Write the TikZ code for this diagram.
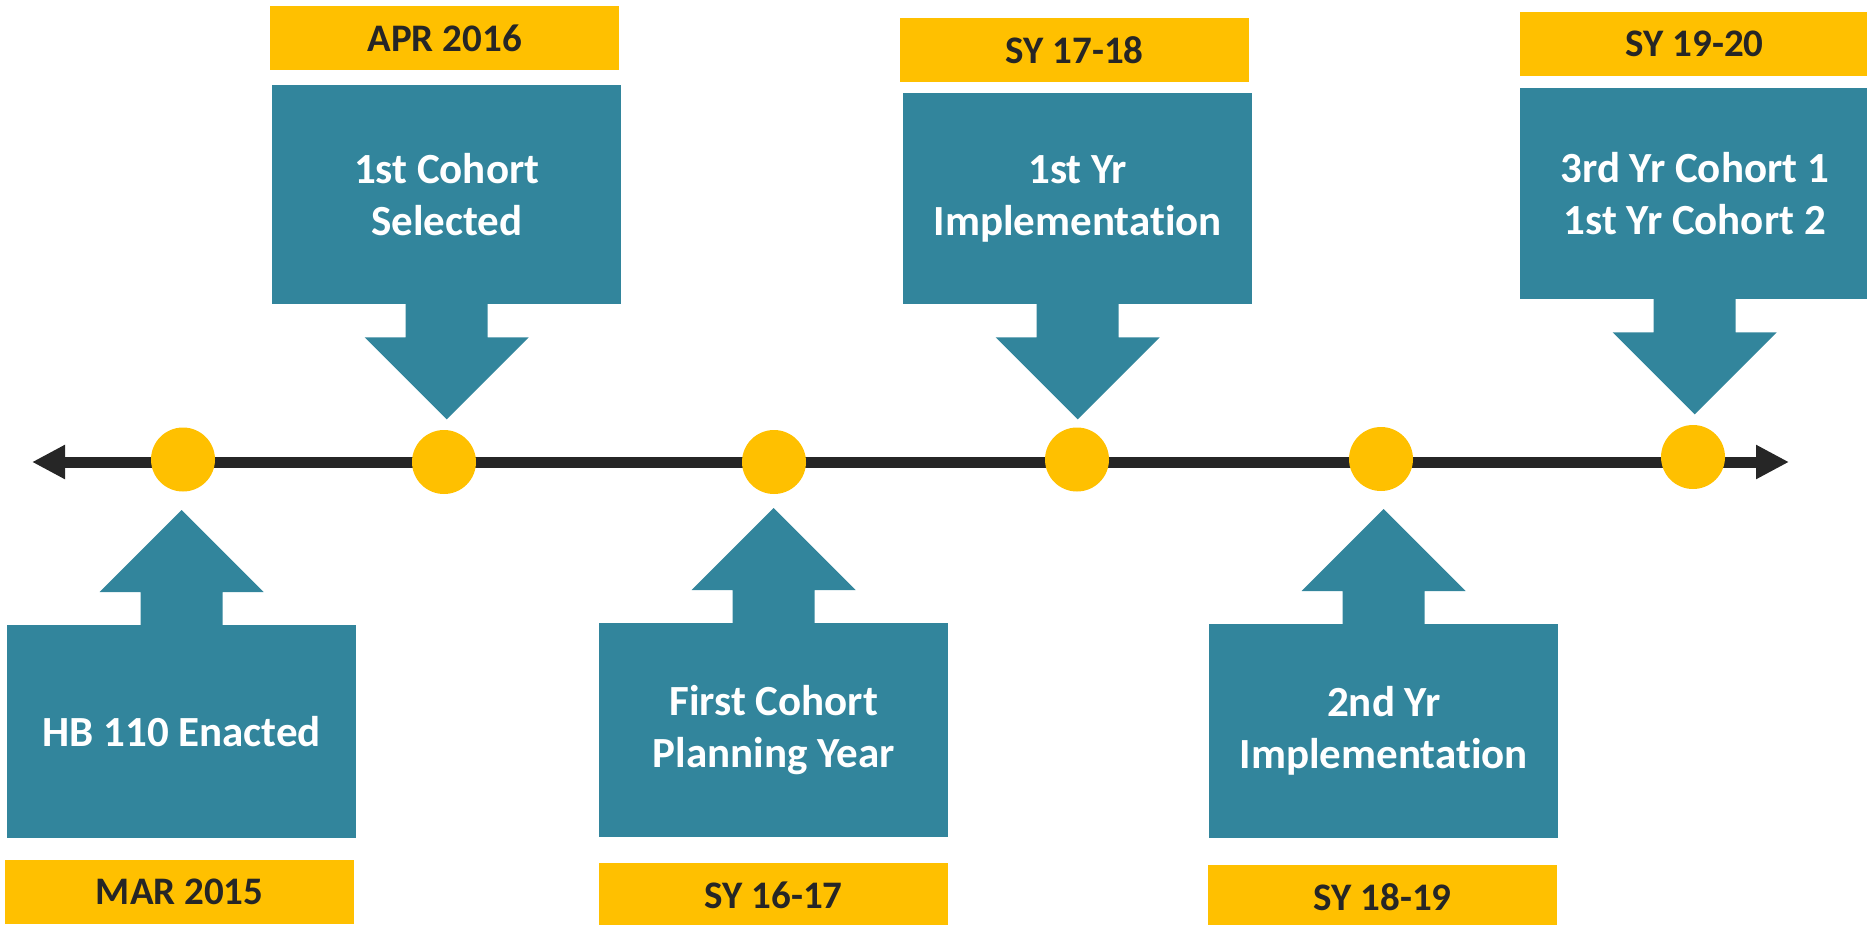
\documentclass[tikz,border=0pt]{standalone}
\usepackage{fontspec}
\setmainfont{Carlito}[Ligatures=NoCommon]
\usetikzlibrary{arrows.meta}
\definecolor{tealc}{HTML}{32859C}
\definecolor{goldc}{HTML}{FFC000}
\definecolor{inkc}{HTML}{262626}
\newcommand\myup[1]{\fill[tealc] ([xshift=-41pt,yshift=-0.5pt]#1.north) -- ++(0,-33.5) -- ++(-41,0) -- ++(82,-82) -- ++(82,82) -- ++(-41,0) -- ++(0,33.5) -- cycle;}
\newcommand\mydown[1]{\fill[tealc] ([xshift=-41pt,yshift=0.5pt]#1.south) -- ++(0,33.5) -- ++(-41,0) -- ++(82,82) -- ++(82,-82) -- ++(-41,0) -- ++(0,-33.5) -- cycle;}
\begin{document}
\begin{tikzpicture}[x=1pt,y=-1pt,
  box/.style={fill=tealc, text=white, font=\fontsize{43}{52}\selectfont\bfseries, align=center, minimum width=349pt, inner sep=0pt, anchor=north west},
  datebox/.style={fill=goldc, text=inkc, font=\fontsize{39}{47}\selectfont\bfseries, minimum width=349pt, minimum height=64pt, inner sep=0pt, anchor=north west},
  dot/.style={circle, fill=goldc, minimum size=64pt, inner sep=0pt},
  tline/.style={draw=inkc, line width=11pt, {Triangle[length=33pt,width=32pt]}-{Triangle[length=33pt,width=32pt]}}]
\useasboundingbox (0,0) rectangle (1867,924);
% timeline
\coordinate (tl) at (32,462);
\coordinate (tr) at (1789,462);
\draw[tline] (tl) -- (tr);
% dots
\node[dot] (c1) at (183,459.5) {};
\node[dot] (c2) at (444,462) {};
\node[dot] (c3) at (774,462) {};
\node[dot] (c4) at (1077,459.5) {};
\node[dot] (c5) at (1381,459) {};
\node[dot] (c6) at (1693,457) {};
% callout boxes
\node[box, minimum height=213pt] (b1) at (7,625) {HB 110 Enacted};
\node[box, minimum height=219pt] (b2) at (272,85) {1st Cohort\\Selected};
\node[box, minimum height=214pt] (b3) at (599,623) {First Cohort\\Planning Year};
\node[box, minimum height=211pt] (b4) at (903,93) {1st Yr\\Implementation};
\node[box, minimum height=214pt] (b5) at (1209,624) {2nd Yr\\Implementation};
\node[box, minimum height=211pt] (b6) at (1520,88) {3rd Yr Cohort 1\\1st Yr Cohort 2};
\myup{b1}
\mydown{b2}
\myup{b3}
\mydown{b4}
\myup{b5}
\mydown{b6}
% date labels
\node[datebox] (d1) at (5,860) {MAR 2015};
\node[datebox] (d2) at (270,6) {APR 2016};
\node[datebox] (d3) at (599,863) {SY 16-17};
\node[datebox] (d4) at (900,18) {SY 17-18};
\node[datebox] (d5) at (1208,865) {SY 18-19};
\node[datebox] (d6) at (1520,12) {SY 19-20};
\end{tikzpicture}
\end{document}
